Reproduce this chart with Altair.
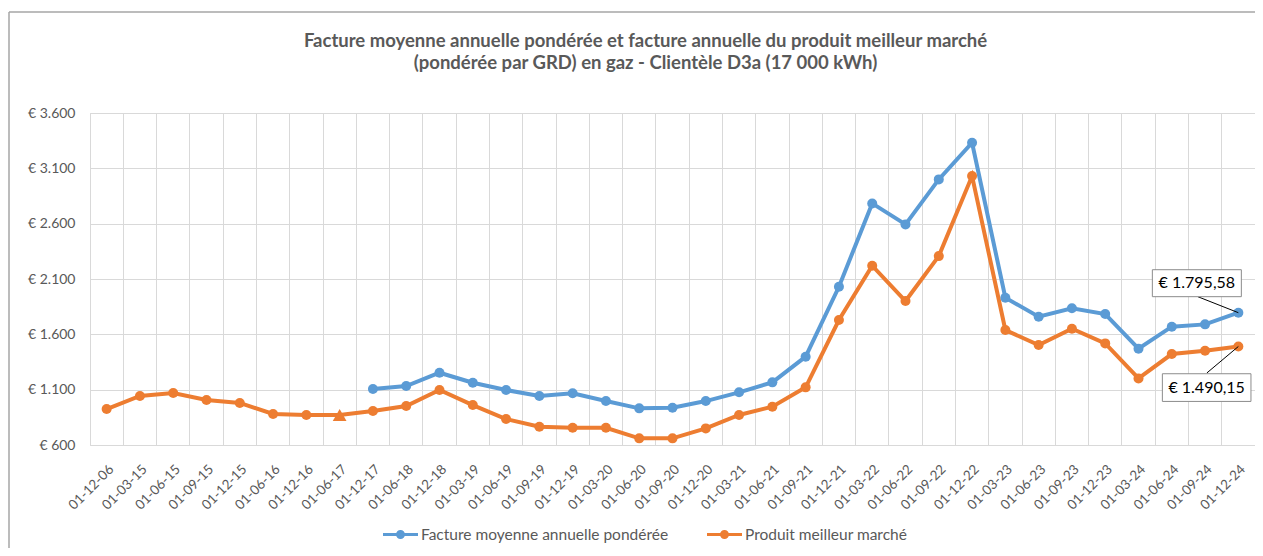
import altair as alt
import pandas as pd

# ---------------- data ----------------
dates = ["01-12-06", "01-03-15", "01-06-15", "01-09-15", "01-12-15", "01-06-16", "01-12-16",
         "01-06-17", "01-12-17", "01-06-18", "01-12-18", "01-03-19", "01-06-19", "01-09-19",
         "01-12-19", "01-03-20", "01-06-20", "01-09-20", "01-12-20", "01-03-21", "01-06-21",
         "01-09-21", "01-12-21", "01-03-22", "01-06-22", "01-09-22", "01-12-22", "01-03-23",
         "01-06-23", "01-09-23", "01-12-23", "01-03-24", "01-06-24", "01-09-24", "01-12-24"]

facture = [None, None, None, None, None, None, None, None,
           1106, 1133, 1253, 1163, 1097, 1043, 1067, 997, 931, 937, 997, 1076, 1166, 1398,
           2030, 2783, 2593, 3000, 3331, 1931, 1759, 1835, 1783, 1470, 1669, 1690, 1795.58]

meilleur = [925, 1043, 1070, 1006, 980, 880, 871, 871, 907, 952,
            1097, 961, 835, 765, 756, 756, 660, 660, 750, 871,
            946, 1121, 1729, 2220, 1901, 2307, 3030, 1639, 1503, 1651,
            1518, 1202, 1422, 1452, 1490.15]

meilleur_markers = ["circle"] * 7 + ["triangle-up"] + ["circle"] * 27

series = ["Facture moyenne annuelle pondérée", "Produit meilleur marché"]
y_ticks = [600, 1100, 1600, 2100, 2600, 3100, 3600]

title_lines = ["Facture moyenne annuelle pondérée et facture annuelle du produit meilleur marché",
               "(pondérée par GRD) en gaz - Clientèle D3a (17 000 kWh)"]

BLUE = "#5B9BD5"
ORANGE = "#ED7D31"
TXT = "#595959"
GRID = "#d9d9d9"
FONT = "Lato"


def eur(v):
    s = f"{v:,.2f}".replace(",", " ").replace(".", ",").replace(" ", ".")
    return "€ " + s


rows = []
for i, d in enumerate(dates):
    if facture[i] is not None:
        rows.append({"date": d, "serie": series[0], "value": facture[i], "marker": "circle",
                     "label": eur(facture[i])})
    rows.append({"date": d, "serie": series[1], "value": meilleur[i], "marker": meilleur_markers[i],
                 "label": eur(meilleur[i])})
df = pd.DataFrame(rows)

last = dates[-1]

# ---------------- encodings ----------------
xscale = alt.Scale(type="band", paddingInner=0, paddingOuter=0)
x_main = alt.X("date:N", sort=dates, scale=xscale,
               axis=alt.Axis(title=None, labelAngle=-45, labelFontSize=13.5, labelFont=FONT,
                             labelColor=TXT, grid=False, ticks=False, domain=False,
                             labelPadding=17))
x_none = alt.X("date:N", sort=dates, scale=xscale, axis=None)
x_grid = alt.X("date:N", sort=dates, scale=xscale,
               axis=alt.Axis(orient="top", title=None, labels=False, ticks=False, domain=False,
                             grid=True, gridColor=GRID, gridWidth=1, bandPosition=0))

y_enc = alt.Y("value:Q",
              scale=alt.Scale(domain=[600, 3600], nice=False, zero=False),
              axis=alt.Axis(title=None, values=y_ticks, grid=True, gridColor=GRID,
                            domain=False, ticks=False, labelFontSize=14, labelFont=FONT,
                            labelColor=TXT, labelPadding=15,
                            labelExpr="'€ ' + replace(format(datum.value, ',d'), ',', '.')"))

base = alt.Chart(df)

grid_layer = base.mark_point(opacity=0).encode(x=x_grid, y=y_enc)

line_blue = base.transform_filter(f"datum.serie == '{series[0]}'").mark_line(
    strokeWidth=4, color=BLUE).encode(x=x_none, y=y_enc)
line_orange = base.transform_filter(f"datum.serie == '{series[1]}'").mark_line(
    strokeWidth=4, color=ORANGE).encode(x=x_none, y=y_enc)

LEG_PATH = ("M-1,-0.086L1,-0.086L1,0.086L-1,0.086Z"
            "M0.257,0A0.257,0.257,0,1,1,-0.257,0A0.257,0.257,0,1,1,0.257,0Z")

circle_layer = base.transform_filter("datum.marker == 'circle'").mark_point(
    filled=True, shape="circle", size=100, opacity=1, strokeWidth=0
).encode(
    x=x_main, y=y_enc,
    fill=alt.Fill("serie:N", scale=alt.Scale(domain=series, range=[BLUE, ORANGE]),
                  legend=alt.Legend(title=None, orient="none", legendX=293, legendY=404,
                                    direction="horizontal", symbolType=LEG_PATH, symbolSize=1225,
                                    symbolStrokeWidth=0, labelFontSize=15.5, labelFont=FONT,
                                    labelColor=TXT, labelOffset=3, columnPadding=38, padding=0,
                                    labelLimit=400)),
)

tri_layer = base.transform_filter("datum.marker == 'triangle-up'").mark_point(
    filled=True, shape="triangle-up", size=190, opacity=1, fill=ORANGE, strokeWidth=0
).encode(x=x_none, y=y_enc)

ann_blue = base.transform_filter(
    f"datum.date == '{last}' && datum.serie == '{series[0]}'")
ann_orange = base.transform_filter(
    f"datum.date == '{last}' && datum.serie == '{series[1]}'")

lead_b = ann_blue.mark_point(shape="M0,0L-1,-0.395", size=6561, filled=False, stroke="black",
                             strokeWidth=1, opacity=1).encode(x=x_none, y=y_enc)
box_b = ann_blue.mark_point(shape="M-1,-0.303L1,-0.303L1,0.303L-1,0.303Z", size=7921,
                            filled=True, fill="white", stroke="#8c8c8c", strokeWidth=1,
                            opacity=1, xOffset=-41.5, yOffset=-29.5).encode(x=x_none, y=y_enc)
txt_b = ann_blue.mark_text(font=FONT, fontSize=16, color="black", dx=-41.5, dy=-29.5,
                           align="center", baseline="middle").encode(
    x=x_none, y=y_enc, text="label:N")

lead_o = ann_orange.mark_point(shape="M0,0L-1,0.841", size=3969, filled=False, stroke="black",
                               strokeWidth=1, opacity=1).encode(x=x_none, y=y_enc)
box_o = ann_orange.mark_point(shape="M-1,-0.3126L1,-0.3126L1,0.3126L-1,0.3126Z", size=7849,
                              filled=True, fill="white", stroke="#8c8c8c", strokeWidth=1,
                              opacity=1, xOffset=-31.7, yOffset=41.1).encode(x=x_none, y=y_enc)
txt_o = ann_orange.mark_text(font=FONT, fontSize=16, color="black", dx=-31.7, dy=41.1,
                             align="center", baseline="middle").encode(
    x=x_none, y=y_enc, text="label:N")

frame_df = pd.DataFrame({"k": [0]})
frame_left = alt.Chart(frame_df).mark_rule(color="#a6a6a6", strokeWidth=1.5).encode(
    x=alt.value(-81), y=alt.value(-101), y2=alt.value(435))
frame_top = alt.Chart(frame_df).mark_rule(color="#a6a6a6", strokeWidth=1.5).encode(
    x=alt.value(-81), x2=alt.value(1165), y=alt.value(-101))

chart = alt.layer(
    grid_layer, line_blue, line_orange, circle_layer, tri_layer,
    lead_b, box_b, txt_b, lead_o, box_o, txt_o,
    frame_left, frame_top,
).resolve_axis(x="independent").properties(
    width=1165, height=332,
    padding={"left": 82, "top": 105, "right": 0, "bottom": 103},
    autosize=alt.AutoSizeParams(type="none"),
    title=alt.TitleParams(text=title_lines, font=FONT, fontSize=18.5, fontWeight="bold",
                          color=TXT, anchor="middle", frame="group", dx=-27, offset=-61,
                          lineHeight=22),
    background="white",
).configure_view(stroke=GRID, strokeWidth=1)

chart.save("out.html", embed_options={"renderer": "svg", "actions": False})
